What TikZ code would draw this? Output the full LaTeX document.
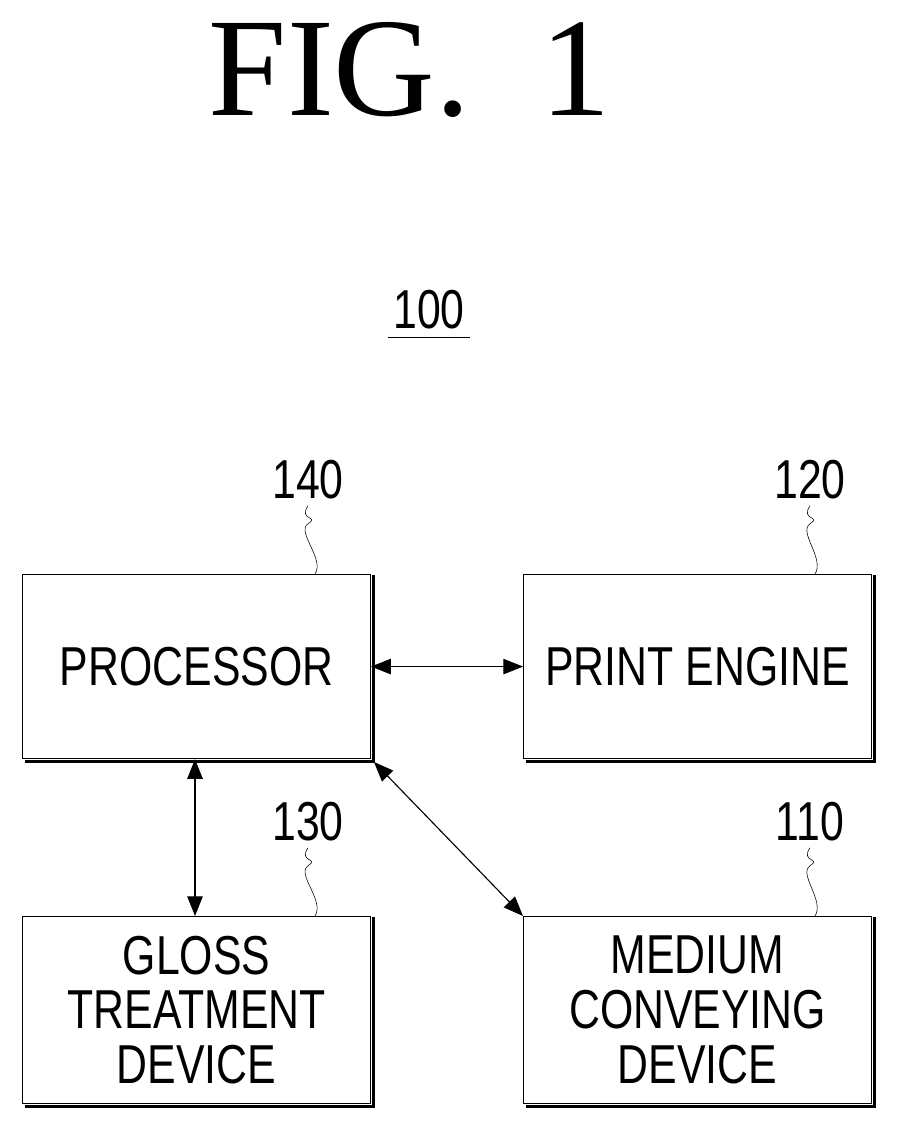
\documentclass[tikz,border=0pt]{standalone}
\usepackage{fontspec}
\setmainfont{Liberation Sans}[FakeStretch=0.78]
\newfontfamily\figfont{Liberation Serif}
\usetikzlibrary{arrows.meta}
\usetikzlibrary{positioning}

\begin{document}
\begin{tikzpicture}
    [x=0.025cm, y=-0.025cm,
     blk/.style={rectangle, draw, thick, minimum width=348*0.025cm, minimum height=184*0.025cm,
                 align=center, font=\fontsize{39}{45}\selectfont},
     shd/.style={line width=2.4pt},
     lnk/.style={{Triangle[length=14pt,width=11pt]}-{Triangle[length=14pt,width=11pt]}, thick},
     lbl/.style={font=\fontsize{39}{45}\selectfont},
     lead/.style={thin}]

    \useasboundingbox (0,0) rectangle (897,1127);

    \node [font=\figfont\fontsize{100}{110}\selectfont] (fig) at (410,70) {FIG.\ \ 1};
    \node [lbl] (sys) at (429,310) {100};
    \draw (sys.south west) ++(0,-2pt) -- ([yshift=-2pt] sys.south east);

    % blocks
    \node [blk, anchor=north west] (proc) at (22,574) {PROCESSOR};
    \node [blk, anchor=north west] (eng) at (523,574) {PRINT ENGINE};
    \node [blk, anchor=north west, minimum height=187*0.025cm] (gloss) at (22,916) {GLOSS\\[-6pt]TREATMENT\\[-6pt]DEVICE};
    \node [blk, anchor=north west, minimum height=187*0.025cm] (med) at (523,916) {MEDIUM\\[-6pt]CONVEYING\\[-6pt]DEVICE};

    \foreach \b in {proc, eng, gloss, med}
        \draw [shd] ([xshift=1.6pt, yshift=-1pt] \b.north east) -- ([xshift=1.6pt, yshift=-1.6pt] \b.south east)
                    -- ([xshift=2pt, yshift=-1.6pt] \b.south west);

    % reference numerals
    \node [lbl] (n140) at (308,480) {140};
    \node [lbl] (n120) at (810,480) {120};
    \node [lbl] (n130) at (308,822) {130};
    \node [lbl] (n110) at (810,822) {110};

    \foreach \n/\b/\x in {n140/proc/315, n120/eng/815, n130/gloss/315, n110/med/815}
        \draw [lead] (\n.south) ++(0,-1pt) .. controls ++(-10,15) and ++(12,-8) .. ++(0,18)
              .. controls ++(-12,8) and ++(10,-15) .. (\x,0 |- \b.north);

    % connectors
    \draw [lnk] (proc.east) -- (eng.west);
    \draw [lnk] (proc.south -| 195,0) -- (gloss.north -| 195,0);
    \draw [lnk] ([shift={(2pt,-2pt)}] proc.south east) -- (med.north west);
\end{tikzpicture}
\end{document}
